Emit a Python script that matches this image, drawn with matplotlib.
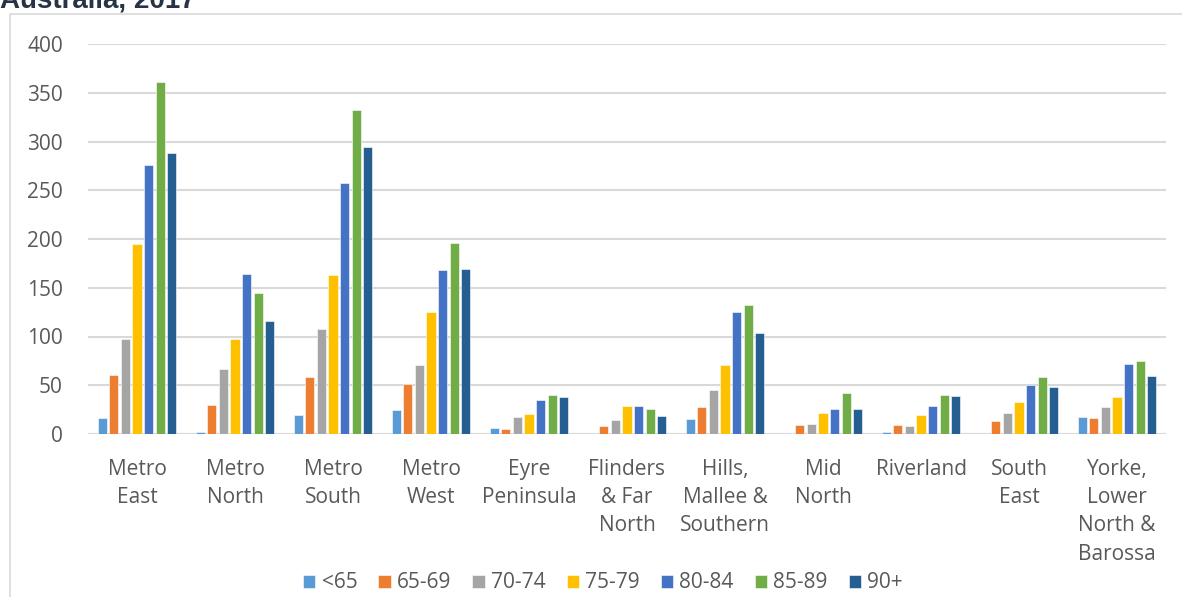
import matplotlib
matplotlib.use("Agg")
import matplotlib.pyplot as plt
import numpy as np
from matplotlib.patches import Rectangle

regions = ["Metro\nEast", "Metro\nNorth", "Metro\nSouth", "Metro\nWest", "Eyre\nPeninsula",
           "Flinders\n& Far\nNorth", "Hills,\nMallee &\nSouthern", "Mid\nNorth", "Riverland",
           "South\nEast", "Yorke,\nLower\nNorth &\nBarossa"]
age_groups = ["<65", "65-69", "70-74", "75-79", "80-84", "85-89", "90+"]
colors = ["#5B9BD5", "#ED7D31", "#A5A5A5", "#FFC000", "#4472C4", "#70AD47", "#255E91"]

lt65 = [16, 2, 19, 25, 6, 1, 15, 1, 2, 0, 17]
a65_69 = [61, 30, 58, 51, 5, 8, 28, 9, 9, 13, 16]
a70_74 = [97, 67, 108, 71, 17, 14, 45, 10, 8, 22, 28]
a75_79 = [195, 97, 163, 125, 21, 29, 71, 22, 19, 33, 38]
a80_84 = [276, 164, 257, 168, 35, 29, 125, 26, 29, 50, 72]
a85_89 = [361, 145, 332, 196, 40, 26, 132, 42, 40, 58, 75]
a90p = [288, 116, 294, 169, 38, 18, 104, 26, 39, 48, 60]
series = [lt65, a65_69, a70_74, a75_79, a80_84, a85_89, a90p]

fnt = "Open Sans"
fig = plt.figure(figsize=(11.82, 5.97), dpi=100)
ax = fig.add_axes([88/1182, 163/597, 1078/1182, 390/597])

x = np.arange(len(regions))
pitch = 0.119
width = 0.092
for i, (vals, lab, c) in enumerate(zip(series, age_groups, colors)):
    ax.bar(x + (i - 3) * pitch, vals, width, color=c, label=lab,
           edgecolor="white", linewidth=0.4, zorder=3)

ax.set_xlim(-0.5, len(regions) - 0.5)
ax.set_ylim(0, 400)
ax.set_yticks(range(0, 401, 50))
ax.grid(axis="y", color="#D9D9D9", linewidth=1.5, zorder=0)
for s in ax.spines.values():
    s.set_visible(False)
ax.axhline(0, color="#D9D9D9", linewidth=1.5, zorder=2)
ax.set_xticks(x)
ax.set_xticklabels(regions, fontsize=15, color="#595959", family=fnt, linespacing=1.45)
ax.tick_params(axis="both", length=0, colors="#595959", labelsize=15)
ax.tick_params(axis="x", pad=18)
ax.tick_params(axis="y", pad=18)
for t in ax.get_yticklabels():
    t.set_family(fnt)

fig.legend(loc="center", bbox_to_anchor=(603/1182, 1 - 583/597), ncol=7, frameon=False,
           prop={"family": fnt, "size": 15}, handlelength=0.6, handleheight=0.6,
           handletextpad=0.3, columnspacing=1.0, labelcolor="#595959")

fig.patches.append(Rectangle((10/1182, -0.1), 1.2, 1 - 14/597 + 0.1, transform=fig.transFigure,
                             fill=False, edgecolor="#D9D9D9", linewidth=1.2))
fig.text(0, 1 - 7/597, "Australia, 2017", family="Liberation Sans", weight="bold",
         fontsize=20, color="#263445", va="baseline", ha="left")

fig.savefig("out.png", dpi=100)
